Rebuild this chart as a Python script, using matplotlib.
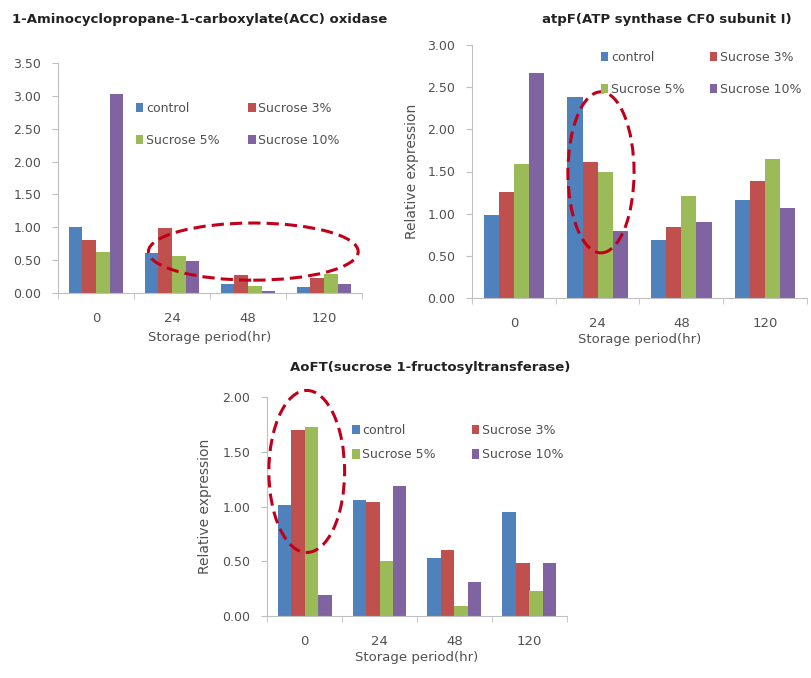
import matplotlib
matplotlib.use("Agg")
import matplotlib.pyplot as plt
from matplotlib.patches import Ellipse, Patch
import numpy as np

categories = ["0", "24", "48", "120"]
series = ["control", "Sucrose 3%", "Sucrose 5%", "Sucrose 10%"]
colors = ["#4F81BD", "#C0504D", "#9BBB59", "#8064A2"]

acc_control = [1.00, 0.61, 0.14, 0.09]
acc_suc3 = [0.81, 0.99, 0.28, 0.23]
acc_suc5 = [0.63, 0.57, 0.11, 0.29]
acc_suc10 = [3.03, 0.48, 0.03, 0.14]

atp_control = [0.98, 2.38, 0.69, 1.16]
atp_suc3 = [1.26, 1.61, 0.84, 1.39]
atp_suc5 = [1.59, 1.50, 1.21, 1.65]
atp_suc10 = [2.67, 0.80, 0.90, 1.07]

aoft_control = [1.01, 1.06, 0.53, 0.95]
aoft_suc3 = [1.70, 1.04, 0.60, 0.48]
aoft_suc5 = [1.73, 0.50, 0.09, 0.23]
aoft_suc10 = [0.19, 1.19, 0.31, 0.48]

W, H = 812, 678
fig = plt.figure(figsize=(W / 100, H / 100), dpi=100)
plt.rcParams['font.family'] = ['DejaVu Sans']

TXT = "#505050"
AXC = "#BFBFBF"


def rect(l, t, r, b):
    return [l / W, 1 - b / H, (r - l) / W, (b - t) / H]


def panel(pos, data, ymax, title, title_xy, title_ha, ylabel, ylabel_x,
          xlabel_y, legend_xy, colspace, lspace, ell):
    ax = fig.add_axes(rect(*pos))
    x = np.arange(len(categories))
    bw = 0.18
    for i, (vals, c) in enumerate(zip(data, colors)):
        ax.bar(x + (i - 1.5) * bw, vals, bw, color=c, linewidth=0, zorder=2)
    ax.set_xlim(-0.5, len(categories) - 0.5)
    ax.set_ylim(0, ymax)
    ax.set_yticks(np.arange(0, ymax + 0.001, 0.5))
    ax.set_yticklabels([f"{v:.2f}" for v in np.arange(0, ymax + 0.001, 0.5)])
    ax.set_xticks(x)
    ax.set_xticklabels(categories)
    ax.set_xticks(np.arange(-0.5, len(categories)), minor=True)
    ax.tick_params(axis='x', which='major', length=0, pad=14, labelsize=9.5, labelcolor=TXT)
    ax.tick_params(axis='x', which='minor', length=4, color=AXC, direction='out')
    ax.tick_params(axis='y', length=4, color=AXC, labelsize=9, labelcolor=TXT, pad=8)
    for s in ['top', 'right']:
        ax.spines[s].set_visible(False)
    for s in ['left', 'bottom']:
        ax.spines[s].set_color(AXC)
    fig.text(title_xy[0] / W, 1 - title_xy[1] / H, title, ha=title_ha, va='center',
             fontsize=9.5, fontweight='bold', color="#222222")
    if ylabel:
        fig.text(ylabel_x / W, 1 - (pos[1] + pos[3]) / 2 / H, ylabel, rotation=90,
                 ha='center', va='center', fontsize=10, color=TXT)
    fig.text(((pos[0] + pos[2]) / 2) / W, 1 - xlabel_y / H, "Storage period(hr)",
             ha='center', va='center', fontsize=9.5, color=TXT)
    handles = [Patch(facecolor=c, edgecolor='none') for c in colors]
    order = [0, 2, 1, 3]
    ax.legend([handles[i] for i in order], [series[i] for i in order], ncol=2,
              frameon=False, loc='upper left',
              bbox_to_anchor=(legend_xy[0] / W, 1 - legend_xy[1] / H),
              bbox_transform=fig.transFigure, fontsize=9, labelcolor=TXT,
              handlelength=0.6, handleheight=0.8, handletextpad=0.2,
              columnspacing=colspace, labelspacing=lspace, borderpad=0, borderaxespad=0)
    e = Ellipse((ell[0], ell[1]), ell[2], ell[3], fill=False, edgecolor="#C0001A",
                linestyle=(0, (4, 2)), linewidth=2.2, zorder=5, clip_on=False)
    ax.add_patch(e)
    return ax


panel((58, 63, 362, 293),
      [acc_control, acc_suc3, acc_suc5, acc_suc10], 3.5,
      "1-Aminocyclopropane-1-carboxylate(ACC) oxidase", (12, 20), 'left',
      None, None, 338, (136, 102), 2.3, 1.5, (2.07, 0.63, 2.76, 0.87))

panel((472, 45, 807, 298),
      [atp_control, atp_suc3, atp_suc5, atp_suc10], 3.0,
      "atpF(ATP synthase CF0 subunit Ⅰ)", (792, 20), 'right',
      "Relative expression", 412, 340, (601, 51), 2.0, 1.5, (1.04, 1.49, 0.79, 1.91))

panel((267, 397, 567, 616),
      [aoft_control, aoft_suc3, aoft_suc5, aoft_suc10], 2.0,
      "AoFT(sucrose 1-fructosyltransferase)", (430, 367), 'center',
      "Relative expression", 205, 658, (352, 424), 2.9, 0.9, (0.03, 1.32, 1.01, 1.48))

fig.savefig("out.png", dpi=100)
